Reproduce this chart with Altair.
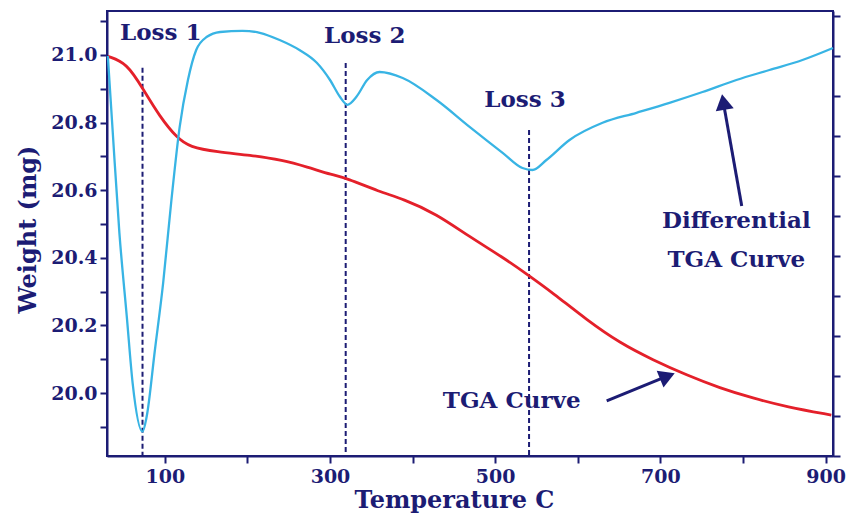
import altair as alt
import pandas as pd

# Thermogravimetric run: sample weight (mg) and its derivative vs. temperature (C)
tga_temp = [31, 54, 73, 94, 115, 130, 163, 203, 243, 272, 303, 320, 360, 388,
            429, 469, 509, 540, 570, 611, 651, 691, 732, 772, 812, 853, 907]
tga_weight = [20.996, 20.976, 20.902, 20.817, 20.754, 20.728, 20.713, 20.704,
              20.689, 20.669, 20.645, 20.636, 20.595, 20.575, 20.530, 20.462,
              20.402, 20.349, 20.296, 20.216, 20.148, 20.098, 20.053, 20.015,
              19.985, 19.959, 19.935]

dtg_temp = [31, 37, 45, 54, 61, 73, 78, 88, 98, 108, 118, 128, 138, 151, 167,
            194, 215, 239, 263, 284, 300, 312, 321, 332, 345, 360, 388, 429,
            469, 509, 533, 545, 562, 590, 630, 671, 711, 751, 792, 832, 872, 909]
dtg_value = [10.0, 8.08, 5.58, 3.48, 1.83, 0.61, 0.98, 2.65, 4.33, 6.4, 8.23,
             9.4, 10.15, 10.48, 10.6, 10.63, 10.58, 10.4, 10.15, 9.83, 9.4,
             8.98, 8.78, 8.98, 9.4, 9.6, 9.45, 8.9, 8.23, 7.58, 7.2, 7.15, 7.4,
             7.9, 8.33, 8.58, 8.83, 9.1, 9.4, 9.65, 9.9, 10.2]

# Weight-loss events marked with dashed lines
loss_names = ["Loss 1", "Loss 2", "Loss 3"]
loss_temp = [73, 319, 541]
loss_line_top = [20.962, 20.976, 20.778]
loss_label_temp = [95, 342, 536]
loss_label_weight = [21.044, 21.036, 20.846]

T_MIN, T_MAX = 30, 909
W_MIN, W_MAX = 19.814, 21.130
D_MIN, D_MAX = 0, 11.125

NAVY = "#1c1c74"
RED = "#e4202a"
BLUE = "#38b4e4"
FONT = "DejaVu Serif"

x_scale = alt.Scale(domain=[T_MIN, T_MAX], nice=False, zero=False)
w_scale = alt.Scale(domain=[W_MIN, W_MAX], nice=False, zero=False)
d_scale = alt.Scale(domain=[D_MIN, D_MAX], nice=False, zero=False)

tga = pd.DataFrame({"temp": tga_temp, "weight": tga_weight})
dtg = pd.DataFrame({"temp": dtg_temp, "dtg": dtg_value})
losses = pd.DataFrame({
    "name": loss_names,
    "temp": loss_temp,
    "top": loss_line_top,
    "bottom": [W_MIN] * 3,
    "label_temp": loss_label_temp,
    "label_weight": loss_label_weight,
})

notes = pd.DataFrame({
    "text": ["Differential", "TGA Curve", "TGA Curve"],
    "temp": [792, 792, 520],
    "weight": [20.488, 20.373, 19.956],
})

arrow_shafts = pd.DataFrame({
    "arrow": ["tga", "tga", "dtg", "dtg"],
    "temp": [635, 712, 798.5, 775.5],
    "weight": [19.977, 20.054, 20.553, 20.870],
})
arrow_heads = pd.DataFrame({
    "temp": [708.5, 776.3],
    "weight": [20.050, 20.861],
    "angle": [68, 350],
})

x_axis = alt.Axis(
    values=list(range(100, 1000, 100)),
    labelExpr="datum.value % 200 == 100 ? datum.label : ''",
    title="Temperature C",
    titleX=347, titleY=51, titleAlign="center", titleBaseline="alphabetic",
    labelPadding=4,
)
w_axis = alt.Axis(
    values=[round(19.9 + 0.1 * i, 1) for i in range(13)],
    labelExpr="abs(round(datum.value * 10)) % 2 == 0 ? format(datum.value, '.1f') : ''",
    title="Weight (mg)",
    titleAngle=270, titleX=-72, titleY=218, titleAlign="center",
    titleBaseline="alphabetic",
    labelPadding=3,
)
d_axis = alt.Axis(
    orient="right", values=list(range(0, 12)), labels=False, title=None,
)


def xenc(field):
    return alt.X(field, type="quantitative", scale=x_scale, axis=x_axis)


def wenc(field):
    return alt.Y(field, type="quantitative", scale=w_scale, axis=w_axis)


loss_lines = alt.Chart(losses).mark_rule(
    color=NAVY, strokeDash=[5, 3], strokeWidth=2
).encode(
    x=xenc("temp"),
    y=wenc("top"),
    y2="bottom:Q",
)

tga_line = alt.Chart(tga).mark_line(
    color=RED, strokeWidth=2.8, interpolate="basis"
).encode(
    x=xenc("temp"),
    y=wenc("weight"),
)

loss_labels = alt.Chart(losses).mark_text(
    font=FONT, fontWeight="bold", fontSize=23, color=NAVY,
    align="center", baseline="alphabetic",
).encode(
    x=xenc("label_temp"),
    y=wenc("label_weight"),
    text="name:N",
)

note_labels = alt.Chart(notes).mark_text(
    font=FONT, fontWeight="bold", fontSize=23, color=NAVY,
    align="center", baseline="alphabetic",
).encode(
    x=xenc("temp"),
    y=wenc("weight"),
    text="text:N",
)

shafts = alt.Chart(arrow_shafts).mark_line(
    color=NAVY, strokeWidth=3
).encode(
    x=xenc("temp"),
    y=wenc("weight"),
    detail="arrow:N",
)

heads = alt.Chart(arrow_heads).mark_point(
    shape="triangle-up", filled=True, color=NAVY, opacity=1, size=330
).encode(
    x=xenc("temp"),
    y=wenc("weight"),
    angle=alt.Angle("angle:Q", scale=None),
)

weight_layers = alt.layer(loss_lines, tga_line, loss_labels, note_labels, shafts, heads)

dtg_line = alt.Chart(dtg).mark_line(
    color=BLUE, strokeWidth=2.3, interpolate="monotone"
).encode(
    x=xenc("temp"),
    y=alt.Y("dtg:Q", scale=d_scale, axis=d_axis),
)

chart = alt.layer(weight_layers, dtg_line).resolve_scale(
    y="independent"
).properties(
    width=726,
    height=445,
    padding={"left": 107, "top": 11, "right": 13, "bottom": 67},
    autosize=alt.AutoSizeParams(type="none"),
    background="white",
).configure_view(
    stroke=NAVY, strokeWidth=2,
).configure_axis(
    domainColor=NAVY, domainWidth=2,
    tickColor=NAVY, tickWidth=2, tickSize=7,
    labelColor=NAVY, labelFont=FONT, labelFontWeight="bold", labelFontSize=19,
    titleColor=NAVY, titleFont=FONT, titleFontWeight="bold", titleFontSize=24,
    grid=False, labelFlush=False,
)

chart.save("out.html", embed_options={"renderer": "svg", "actions": False})
